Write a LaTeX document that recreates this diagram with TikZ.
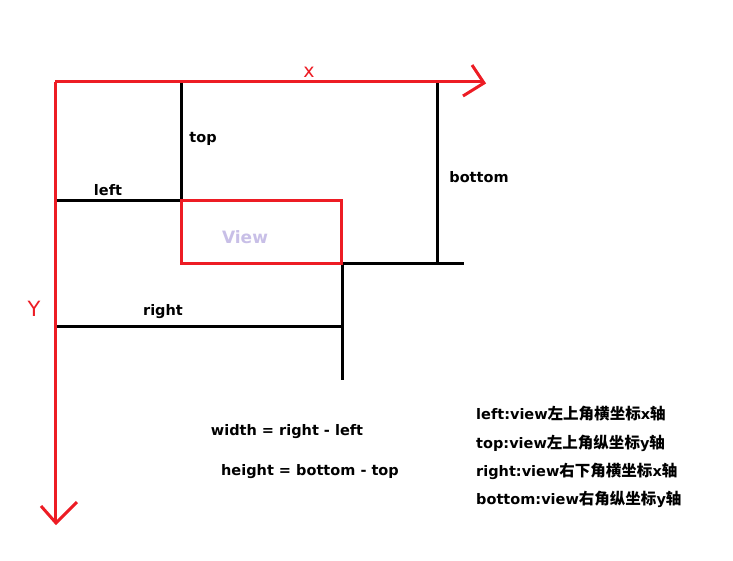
\documentclass[tikz,border=0pt]{standalone}
\usepackage{fontspec}
\setmainfont{DejaVu Sans}
\newfontfamily\cjk{Noto Sans CJK SC}[Scale=1.07]
\definecolor{axisred}{RGB}{237,28,36}
\definecolor{viewlav}{RGB}{200,191,231}
\tikzset{
  axis/.style={axisred,line width=3pt},
  edge/.style={black,line width=3pt},
  lbl/.style={font=\fontsize{14.5}{16}\selectfont\bfseries,inner sep=0pt},
  note/.style={lbl,anchor=west},
}
\newcommand{\zh}[1]{{\cjk\bfseries #1}}
\begin{document}
\begin{tikzpicture}[x=1pt,y=-1pt]
            \useasboundingbox[fill=white] (0,0) rectangle (733,561);
            \coordinate (O) at (55,82);
            \coordinate (xend) at (483,82);
            \coordinate (yend) at (55,522);
            \coordinate (tl) at (181,201);
            \coordinate (br) at (341,264);
            \coordinate (ltop) at (181,82);
            \coordinate (lleft) at (55,201);
            \coordinate (btop) at (437,82);
            \coordinate (bend) at (464,264);
            \coordinate (rend) at (342,380);
            \coordinate (rleft) at (55,326);
            \coordinate (rmid) at (342,326);

            \draw[edge] (ltop)--(tl);
            \draw[edge] (lleft)--(tl);
            \draw[edge] (btop)--(437,264);
            \draw[edge] (br)--(bend);
            \draw[edge] (342,264)--(rend);
            \draw[edge] (rleft)--(rmid);
            \draw[axis] (tl) rectangle (br);

            \draw[axis] (O)--(xend);
            \draw[axis,line join=miter] (472,65)--(484,83)--(463,96);
            \draw[axis] (O)--(yend);
            \draw[axis,line join=miter] (41,506)--(56,523)--(77,502);

            \node[axisred,font=\fontsize{19}{21}\selectfont,inner sep=0pt] (xlbl) at (309,72) {x};
            \node[axisred,font=\fontsize{21}{23}\selectfont,inner sep=0pt] (ylbl) at (34,309) {Y};
            \node[viewlav,font=\fontsize{17}{19}\selectfont\bfseries,inner sep=0pt] (view) at (245,237) {View};

            \node[lbl] (top) at (203,139) {top};
            \node[lbl] (left) at (108,190) {left};
            \node[lbl] (bottom) at (479,177) {bottom};
            \node[lbl] (right) at (163,312) {right};

            \node[lbl] (width) at (287,432) {width = right - left};
            \node[lbl] (height) at (310,472) {height = bottom - top};

            \node[note] (n1) at (476,414) {left:view\zh{左上角横坐标}x\zh{轴}};
            \node[note] (n2) at (476,443) {top:view\zh{左上角纵坐标}y\zh{轴}};
            \node[note] (n3) at (476,471) {right:view\zh{右下角横坐标}x\zh{轴}};
            \node[note] (n4) at (476,499) {bottom:view\zh{右角纵坐标}y\zh{轴}};
        \end{tikzpicture}
\end{document}
